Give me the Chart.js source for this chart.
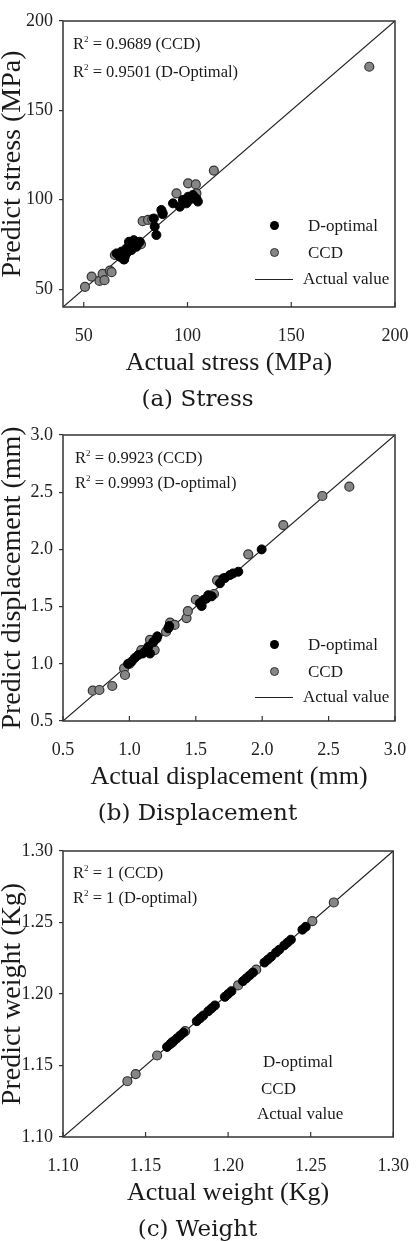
<!DOCTYPE html>
<html>
<head>
<meta charset="utf-8">
<script src="https://cdn.jsdelivr.net/npm/chart.js@4.4.0/dist/chart.umd.min.js"></script>
<style>
html, body { margin: 0; padding: 0; background: #fff; }
body { width: 419px; height: 1241px; overflow: hidden; position: relative;
       font-family: "Liberation Serif", "Times New Roman", serif; color: #1a1a1a; }
.panel { position: absolute; left: 0; width: 419px; height: 414px; }
.panel canvas { position: absolute; left: 0; top: 0; }
.note { position: absolute; font-size: 16.5px; line-height: 20px; white-space: nowrap; }
.note sup { font-size: 9px; vertical-align: 0; position: relative; top: -7px; }
.leg { position: absolute; font-size: 17px; line-height: 20px; white-space: nowrap; }
.dot { position: absolute; width: 9px; height: 9px; border-radius: 50%; box-sizing: border-box; }
.dot.d { background: #000; }
.dot.c { background: #868686; border: 1.2px solid #333; }
.ln { position: absolute; height: 0; border-top: 1.3px solid #222; }
</style>
</head>
<body>

<div class="panel" style="top:0px">
  <canvas id="stressChart" width="419" height="414"></canvas>
  <div class="note" style="left:73px;top:34px">R<sup>2</sup> = 0.9689 (CCD)</div>
  <div class="note" style="left:73px;top:62px">R<sup>2</sup> = 0.9501 (D-Optimal)</div>
  <div class="dot d" style="left:270px;top:221px"></div>
  <div class="leg" style="left:308px;top:216px">D-optimal</div>
  <div class="dot c" style="left:270px;top:248px"></div>
  <div class="leg" style="left:308px;top:243px">CCD</div>
  <div class="ln" style="left:255px;top:279px;width:38px"></div>
  <div class="leg" style="left:303px;top:269px">Actual value</div>
</div>

<div class="panel" style="top:414px">
  <canvas id="dispChart" width="419" height="414"></canvas>
  <div class="note" style="left:75px;top:34px">R<sup>2</sup> = 0.9923 (CCD)</div>
  <div class="note" style="left:75px;top:59px">R<sup>2</sup> = 0.9993 (D-optimal)</div>
  <div class="dot d" style="left:270px;top:226px"></div>
  <div class="leg" style="left:308px;top:221px">D-optimal</div>
  <div class="dot c" style="left:270px;top:253px"></div>
  <div class="leg" style="left:308px;top:248px">CCD</div>
  <div class="ln" style="left:255px;top:283px;width:38px"></div>
  <div class="leg" style="left:303px;top:273px">Actual value</div>
</div>

<div class="panel" style="top:830px">
  <canvas id="weightChart" width="419" height="414"></canvas>
  <div class="note" style="left:73px;top:33px">R<sup>2</sup> = 1 (CCD)</div>
  <div class="note" style="left:73px;top:58px">R<sup>2</sup> = 1 (D-optimal)</div>
  <div class="leg" style="left:263px;top:222px">D-optimal</div>
  <div class="leg" style="left:261px;top:249px">CCD</div>
  <div class="leg" style="left:257px;top:274px">Actual value</div>
</div>

<script>
// (a) stress, MPa  [actual, predicted]
const stressTicks = [50, 100, 150, 200];
const stressDopt = [
  [65.8, 70.0], [67.4, 68.1], [68.2, 71.0], [69.5, 66.6], [69.8, 68.1], [70.6, 72.8],
  [71.0, 70.5], [71.8, 76.5], [72.2, 74.7], [73.0, 71.9], [73.5, 74.0], [74.1, 77.4],
  [74.6, 76.5], [75.4, 73.7], [76.2, 75.5], [77.0, 76.5], [83.8, 89.5], [84.2, 85.0],
  [85.0, 80.3], [87.4, 94.3], [88.0, 92.0], [93.0, 98.0], [96.3, 96.1], [97.8, 99.9],
  [99.5, 98.0], [100.3, 101.7], [101.0, 100.0], [102.6, 102.7], [104.3, 100.6], [105.0, 99.0]
];
const stressCcd = [
  [50.6, 51.3], [53.8, 57.0], [57.6, 54.6], [59.1, 58.5], [60.0, 55.0], [62.6, 60.3],
  [63.4, 59.5], [65.0, 69.1], [69.3, 66.7], [77.6, 75.1], [78.4, 88.0], [81.0, 88.7],
  [83.0, 89.0], [88.0, 92.6], [94.7, 103.6], [100.3, 109.2], [104.0, 108.6], [104.3, 103.6],
  [112.7, 116.3], [187.6, 174.4]
];

// (b) displacement, mm
const dispTicks = [0.5, 1.0, 1.5, 2.0, 2.5, 3.0];
const dispDopt = [
  [0.99, 1.00], [1.017, 1.02], [1.04, 1.05], [1.067, 1.077], [1.10, 1.09], [1.117, 1.106],
  [1.142, 1.15], [1.155, 1.09], [1.18, 1.19], [1.205, 1.22], [1.21, 1.24], [1.293, 1.31],
  [1.30, 1.33], [1.53, 1.53], [1.544, 1.505], [1.56, 1.56], [1.58, 1.57], [1.594, 1.60],
  [1.62, 1.59], [1.682, 1.704], [1.707, 1.747], [1.72, 1.75], [1.757, 1.776], [1.78, 1.79],
  [1.82, 1.805], [1.996, 2.00]
];
const dispCcd = [
  [0.724, 0.765], [0.774, 0.771], [0.871, 0.806], [0.96, 0.96], [0.967, 0.902], [1.00, 1.00],
  [1.09, 1.12], [1.155, 1.21], [1.19, 1.12], [1.276, 1.28], [1.306, 1.36], [1.34, 1.34],
  [1.43, 1.40], [1.44, 1.46], [1.50, 1.56], [1.637, 1.61], [1.66, 1.73], [1.895, 1.957],
  [2.159, 2.213], [2.453, 2.467], [2.656, 2.548]
];

// (c) weight, Kg
const weightTicks = [1.10, 1.15, 1.20, 1.25, 1.30];
const weightDopt = [
  [1.163, 1.163], [1.165, 1.165], [1.167, 1.167], [1.169, 1.169], [1.171, 1.171], [1.173, 1.173],
  [1.181, 1.181], [1.183, 1.183], [1.185, 1.185], [1.188, 1.188], [1.190, 1.190], [1.192, 1.192],
  [1.198, 1.198], [1.200, 1.200], [1.202, 1.202], [1.209, 1.209], [1.211, 1.211], [1.213, 1.213],
  [1.215, 1.215], [1.222, 1.222], [1.224, 1.224], [1.226, 1.226], [1.229, 1.229], [1.231, 1.231],
  [1.234, 1.234], [1.236, 1.236], [1.238, 1.238], [1.245, 1.245], [1.247, 1.247]
];
const weightCcd = [
  [1.139, 1.139], [1.144, 1.144], [1.157, 1.157], [1.166, 1.166], [1.174, 1.174],
  [1.206, 1.206], [1.217, 1.217], [1.251, 1.251], [1.264, 1.264]
];

const pts = arr => arr.map(p => ({ x: p[0], y: p[1] }));

// box round the plot + short inward ticks on the x axis
const framePlugin = {
  id: 'frame',
  afterDatasetsDraw(chart) {
    const { ctx, chartArea: a, scales } = chart;
    ctx.save();
    ctx.strokeStyle = '#333';
    ctx.lineWidth = 1.5;
    ctx.strokeRect(a.left, a.top, a.right - a.left, a.bottom - a.top);
    ctx.lineWidth = 1.2;
    scales.x.ticks.forEach(t => {
      const px = scales.x.getPixelForValue(t.value);
      ctx.beginPath();
      ctx.moveTo(px, a.bottom);
      ctx.lineTo(px, a.bottom - 5);
      ctx.stroke();
    });
    ctx.restore();
  }
};

function makeChart(id, o) {
  const tickFont = { family: 'Liberation Serif', size: 18 };
  return new Chart(document.getElementById(id), {
    type: 'scatter',
    data: {
      datasets: [
        { label: 'D-optimal', data: pts(o.dopt), backgroundColor: '#000', borderColor: '#000',
          borderWidth: 1, pointRadius: 4.5 },
        { label: 'CCD', data: pts(o.ccd), backgroundColor: '#868686', borderColor: '#333',
          borderWidth: 1.2, pointRadius: 4.5 },
        { label: 'Actual value', type: 'line', data: [{ x: o.min, y: o.min }, { x: o.max, y: o.max }],
          borderColor: '#222', borderWidth: 1.2, pointRadius: 0 }
      ]
    },
    options: {
      responsive: false,
      animation: false,
      devicePixelRatio: 1,
      layout: { padding: { top: 21, right: 24, left: 0, bottom: 0 } },
      plugins: {
        legend: { display: false },
        tooltip: { enabled: false },
        title: {
          display: true, position: 'bottom', text: o.caption, color: '#1a1a1a', padding: 0,
          font: { family: 'DejaVu Serif', size: 23, weight: 'normal', lineHeight: 1.2 }
        }
      },
      scales: {
        x: {
          type: 'linear', min: o.min, max: o.max,
          afterBuildTicks: s => { s.ticks = o.ticks.map(v => ({ value: v })); },
          afterFit: s => { s.height = 79.4; },
          grid: { display: false },
          border: { display: false },
          ticks: { padding: 10, color: '#222', font: tickFont, maxRotation: 0,
                   callback: v => v.toFixed(o.dec) },
          title: { display: true, text: o.xTitle, color: '#1a1a1a',
                   font: { family: 'Liberation Serif', size: 26, lineHeight: 1.2 },
                   padding: { top: 0, bottom: 8 } }
        },
        y: {
          type: 'linear', min: o.min, max: o.max,
          afterBuildTicks: s => { s.ticks = o.ticks.map(v => ({ value: v })); },
          afterFit: s => { s.width = 63; },
          grid: { drawOnChartArea: false, tickLength: 4, color: '#333', lineWidth: 1.2 },
          border: { display: false },
          ticks: { padding: 6, color: '#222', font: tickFont, callback: v => v.toFixed(o.dec) },
          title: { display: true, text: o.yTitle, color: '#1a1a1a',
                   font: { family: 'Liberation Serif', size: 28, lineHeight: '26px' },
                   padding: 0 }
        }
      }
    },
    plugins: [framePlugin]
  });
}

makeChart('stressChart', {
  dopt: stressDopt, ccd: stressCcd, ticks: stressTicks, min: 40, max: 200, dec: 0,
  xTitle: 'Actual stress (MPa)', yTitle: 'Predict stress (MPa)', caption: '(a) Stress'
});
makeChart('dispChart', {
  dopt: dispDopt, ccd: dispCcd, ticks: dispTicks, min: 0.5, max: 3.0, dec: 1,
  xTitle: 'Actual displacement (mm)', yTitle: 'Predict displacement (mm)', caption: '(b) Displacement'
});
makeChart('weightChart', {
  dopt: weightDopt, ccd: weightCcd, ticks: weightTicks, min: 1.10, max: 1.30, dec: 2,
  xTitle: 'Actual weight (Kg)', yTitle: 'Predict weight (Kg)', caption: '(c) Weight'
});
</script>
</body>
</html>
